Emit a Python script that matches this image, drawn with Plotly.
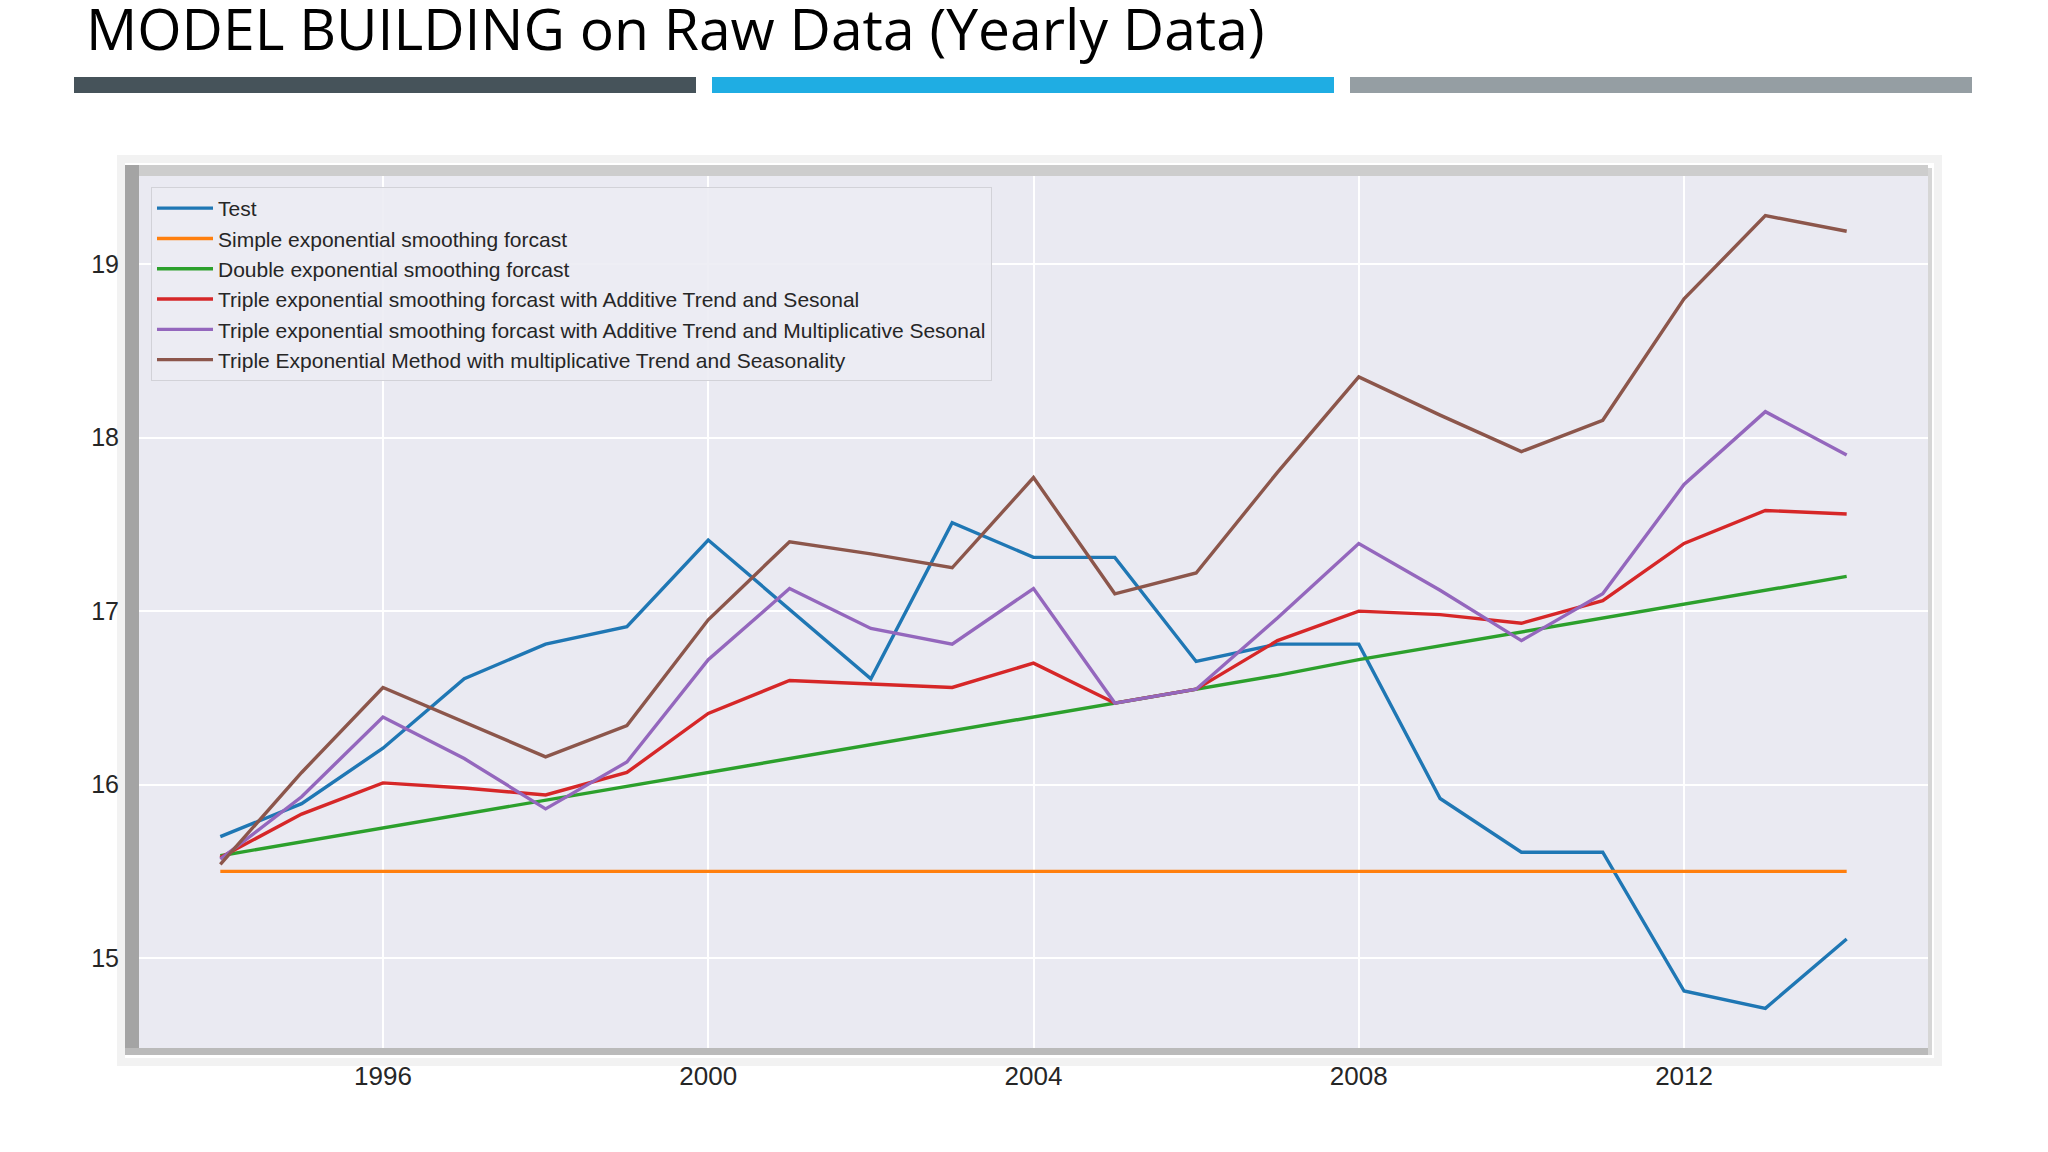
import plotly.graph_objects as go

# values (yearly, 1994-2014)
years = [1994, 1995, 1996, 1997, 1998, 1999, 2000, 2001, 2002, 2003, 2004,
         2005, 2006, 2007, 2008, 2009, 2010, 2011, 2012, 2013, 2014]

test = [15.70, 15.89, 16.21, 16.61, 16.81, 16.91, 17.41, 17.01, 16.61, 17.51, 17.31,
        17.31, 16.71, 16.81, 16.81, 15.92, 15.61, 15.61, 14.81, 14.71, 15.11]
simple_exp = [15.50, 15.50, 15.50, 15.50, 15.50, 15.50, 15.50, 15.50, 15.50, 15.50, 15.50,
              15.50, 15.50, 15.50, 15.50, 15.50, 15.50, 15.50, 15.50, 15.50, 15.50]
double_exp = [15.59, 15.67, 15.75, 15.83, 15.91, 15.99, 16.07, 16.15, 16.23, 16.31, 16.39,
              16.47, 16.55, 16.63, 16.72, 16.80, 16.88, 16.96, 17.04, 17.12, 17.20]
triple_add = [15.58, 15.83, 16.01, 15.98, 15.94, 16.07, 16.41, 16.60, 16.58, 16.56, 16.70,
              16.47, 16.55, 16.83, 17.00, 16.98, 16.93, 17.06, 17.39, 17.58, 17.56]
triple_add_mul = [15.57, 15.93, 16.39, 16.15, 15.86, 16.13, 16.72, 17.13, 16.90, 16.81, 17.13,
                  16.47, 16.55, 16.96, 17.39, 17.12, 16.83, 17.10, 17.73, 18.15, 17.90]
triple_mul = [15.54, 16.07, 16.56, 16.36, 16.16, 16.34, 16.95, 17.40, 17.33, 17.25, 17.77,
              17.10, 17.22, 17.80, 18.35, 18.13, 17.92, 18.10, 18.80, 19.28, 19.19]

series_names = [
    'Test',
    'Simple exponential smoothing forcast',
    'Double exponential smoothing forcast',
    'Triple exponential smoothing forcast with Additive Trend and Sesonal',
    'Triple exponential smoothing forcast with Additive Trend and Multiplicative Sesonal',
    'Triple Exponential Method with multiplicative Trend and Seasonality',
]
series_colors = ['#1f77b4', '#ff7f0e', '#2ca02c', '#d62728', '#9467bd', '#8c564b']
x_ticks = [1996, 2000, 2004, 2008, 2012]
y_ticks = [15, 16, 17, 18, 19]

W, H = 2048, 1152
L, R, T, B = 139, 1928, 176, 1048   # plot area in page pixels

plt_config = {'displayModeBar': False}


def px_x(x):
    return (x - L) / (R - L)


def px_y(y):
    return (B - y) / (B - T)


def rect(x0, y0, x1, y1, fill=None, line=None, lw=0):
    return dict(type='rect', xref='paper', yref='paper', layer='below',
                x0=px_x(x0), x1=px_x(x1), y0=px_y(y1), y1=px_y(y0),
                fillcolor=fill if fill else 'rgba(0,0,0,0)',
                line=dict(color=line if line else 'rgba(0,0,0,0)', width=lw))


def main():
    all_series = [test, simple_exp, double_exp, triple_add, triple_add_mul, triple_mul]

    fig = go.Figure()
    for name, vals, col in zip(series_names, all_series, series_colors):
        fig.add_trace(go.Scatter(x=years, y=vals, name=name, mode='lines',
                                 line=dict(color=col, width=3.4)))

    # matplotlib style 5% margins
    lo = min(min(s) for s in all_series)
    hi = max(max(s) for s in all_series)
    pad = (hi - lo) * 0.05
    xpad = (years[-1] - years[0]) * 0.05

    shapes = [
        # header bars
        rect(74, 77, 696, 93, fill='#46535a'),
        rect(712, 77, 1334, 93, fill='#1fade3'),
        rect(1350, 77, 1972, 93, fill='#959ea3'),
        # screenshot frame / shadow
        rect(121, 159, 1938, 1062, line='#f2f2f2', lw=8),
        rect(127, 165, 1928, 176, fill='#cdcdcd'),
        rect(125, 165, 139, 1055, fill='#a4a4a4'),
        rect(125, 1048, 1928, 1055, fill='#bababa'),
        rect(1928, 168, 1932, 1055, fill='#d6d6d6'),
    ]

    fig.update_layout(
        width=W, height=H,
        margin=dict(l=L, r=W - R, t=T, b=H - B),
        paper_bgcolor='white',
        plot_bgcolor='#eaeaf2',
        font=dict(family='Liberation Sans, Arial', color='#262626'),
        title=dict(text='MODEL BUILDING on Raw Data (Yearly Data)',
                   font=dict(family='Open Sans', size=57, color='black'),
                   xref='container', yref='container',
                   x=86 / W, xanchor='left', y=1 - 30 / H, yanchor='middle'),
        shapes=shapes,
        showlegend=True,
        legend=dict(x=px_x(151), y=px_y(187), xanchor='left', yanchor='top',
                    bgcolor='rgba(236,236,243,0.9)', bordercolor='#d2d2d8',
                    borderwidth=1, font=dict(size=21, color='#262626'),
                    itemwidth=56, tracegroupgap=0),
    )
    fig.update_xaxes(range=[years[0] - xpad, years[-1] + xpad],
                     tickvals=x_ticks, showgrid=True, gridcolor='white', gridwidth=2,
                     zeroline=False, showline=False, ticks='',
                     tickfont=dict(size=26, color='#262626'), ticklabelstandoff=10)
    fig.update_yaxes(range=[lo - pad, hi + pad],
                     tickvals=y_ticks, showgrid=True, gridcolor='white', gridwidth=2,
                     zeroline=False, showline=False, ticks='',
                     tickfont=dict(size=25, color='#262626'), ticklabelstandoff=19)

    # page body margin would shift the figure by 8px
    fig.write_html('out.html', config=plt_config,
                   post_script="document.body.style.margin='0';")


if __name__ == '__main__':
    main()
